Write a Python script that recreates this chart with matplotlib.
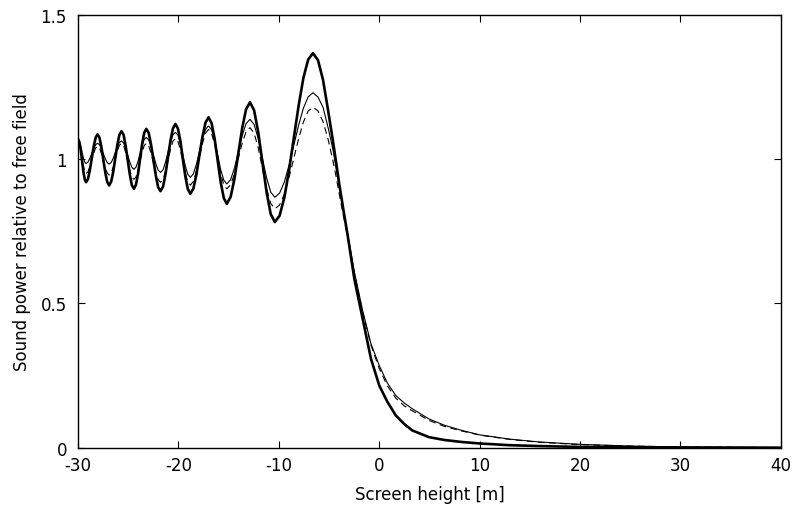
import matplotlib
matplotlib.use("Agg")
import matplotlib.pyplot as plt

plt.rcParams['font.family'] = ['DejaVu Sans']

# screen height [m], shared by the three curves
height = [-30, -29.87, -29.73, -29.6, -29.47, -29.33,
          -29.2, -29.01, -28.82, -28.63, -28.43, -28.24,
          -28.05, -27.86, -27.67, -27.48, -27.28, -27.09,
          -26.9, -26.70, -26.49, -26.29, -26.08, -25.88,
          -25.67, -25.46, -25.26, -25.05, -24.84, -24.64,
          -24.43, -24.23, -24.02, -23.82, -23.61, -23.41,
          -23.2, -22.96, -22.73, -22.49, -22.25, -22.02,
          -21.78, -21.53, -21.29, -21.04, -20.79, -20.55,
          -20.3, -20.05, -19.80, -19.56, -19.31, -19.06,
          -18.81, -18.51, -18.21, -17.91, -17.60, -17.30,
          -17.0, -16.70, -16.39, -16.09, -15.79, -15.48,
          -15.18, -14.80, -14.41, -14.03, -13.64, -13.26,
          -12.87, -12.46, -12.05, -11.64, -11.22, -10.81,
          -10.4, -9.925, -9.45, -8.975, -8.5, -8.025, -7.55, -7.075,
          -6.6, -6.1, -5.6, -5.1, -4.62, -4.3, -3.96, -3.55, -3.14,
          -2.48, -1.65, -0.82, 0, 0.8, 1.65, 2.5, 3.3, 4.95, 6.5, 8.25,
          10, 13, 16, 20, 25, 30, 35, 40]

# thick solid curve
power_a = [1.07, 1.060, 1.033, 0.995, 0.958, 0.930,
           0.92, 0.931, 0.962, 1.003, 1.045, 1.075,
           1.086, 1.074, 1.042, 0.998, 0.953, 0.921,
           0.909, 0.922, 0.956, 1.003, 1.05, 1.084,
           1.097, 1.084, 1.047, 0.997, 0.947, 0.910,
           0.897, 0.911, 0.949, 1.001, 1.053, 1.091,
           1.105, 1.091, 1.051, 0.997, 0.943, 0.903,
           0.889, 0.905, 0.947, 1.006, 1.064, 1.106,
           1.122, 1.106, 1.062, 1.001, 0.94, 0.896,
           0.88, 0.898, 0.946, 1.013, 1.079, 1.127,
           1.145, 1.125, 1.07, 0.995, 0.92, 0.865,
           0.845, 0.869, 0.933, 1.021, 1.109, 1.173,
           1.197, 1.169, 1.093, 0.990, 0.886, 0.81,
           0.782, 0.804, 0.867, 0.963, 1.075, 1.186, 1.282, 1.345,
           1.367, 1.343, 1.275, 1.17, 1.065, 0.99, 0.909, 0.82, 0.735,
           0.585, 0.447, 0.308, 0.216, 0.16, 0.112, 0.082, 0.06, 0.037, 0.027,
           0.02, 0.015, 0.009, 0.006, 0.003, 0.002, 0.001, 0.0005, 0.0003]

# thin solid curve
power_b = [1.065, 1.06, 1.045, 1.025, 1.005, 0.99,
           0.985, 0.99, 1.003, 1.02, 1.038, 1.05,
           1.055, 1.05, 1.037, 1.019, 1.001, 0.988,
           0.983, 0.988, 1.003, 1.023, 1.043, 1.058,
           1.063, 1.056, 1.039, 1.014, 0.99, 0.972,
           0.965, 0.972, 0.993, 1.02, 1.048, 1.068,
           1.075, 1.067, 1.045, 1.015, 0.984, 0.962,
           0.954, 0.963, 0.989, 1.024, 1.058, 1.084,
           1.093, 1.083, 1.054, 1.015, 0.976, 0.947,
           0.937, 0.949, 0.982, 1.026, 1.071, 1.103,
           1.115, 1.102, 1.065, 1.015, 0.964, 0.927,
           0.914, 0.929, 0.97, 1.026, 1.082, 1.123,
           1.138, 1.12, 1.071, 1.003, 0.936, 0.886,
           0.868, 0.882, 0.921, 0.98, 1.049, 1.118, 1.177, 1.216,
           1.23, 1.215, 1.18, 1.11, 1.035, 0.97, 0.9, 0.82, 0.74,
           0.61, 0.475, 0.36, 0.285, 0.225, 0.181, 0.155, 0.135, 0.10, 0.078,
           0.06, 0.045, 0.03, 0.02, 0.012, 0.006, 0.003, 0.002, 0.001]

# dashed curve
power_c = [1.06, 1.053, 1.033, 1.005, 0.978, 0.957,
           0.95, 0.956, 0.974, 0.998, 1.021, 1.039,
           1.045, 1.038, 1.02, 0.995, 0.97, 0.952,
           0.945, 0.952, 0.973, 1.0, 1.028, 1.048,
           1.055, 1.047, 1.024, 0.993, 0.961, 0.938,
           0.93, 0.938, 0.961, 0.993, 1.024, 1.047,
           1.055, 1.046, 1.021, 0.988, 0.954, 0.929,
           0.92, 0.93, 0.958, 0.996, 1.034, 1.062,
           1.072, 1.061, 1.032, 0.991, 0.951, 0.921,
           0.91, 0.923, 0.958, 1.007, 1.055, 1.09,
           1.103, 1.089, 1.052, 1.0, 0.949, 0.911,
           0.897, 0.911, 0.95, 1.003, 1.056, 1.095,
           1.109, 1.09, 1.039, 0.969, 0.898, 0.847,
           0.828, 0.841, 0.879, 0.937, 1.004, 1.071, 1.129, 1.167,
           1.18, 1.167, 1.13, 1.07, 0.995, 0.94, 0.875, 0.80, 0.73,
           0.605, 0.47, 0.355, 0.275, 0.215, 0.172, 0.145, 0.128, 0.095, 0.074,
           0.058, 0.044, 0.029, 0.019, 0.011, 0.006, 0.003, 0.002, 0.001]

xticks = [-30, -20, -10, 0, 10, 20, 30, 40]
yticks = [0, 0.5, 1, 1.5]
ytick_labels = ['0', '0.5', '1', '1.5']

fig = plt.figure(figsize=(7.96, 5.10), dpi=100)
ax = fig.add_axes([0.098, 0.12, 0.883, 0.849])

ax.plot(height, power_a, color='k', lw=1.9, solid_joinstyle='round')
ax.plot(height, power_b, color='k', lw=0.8, solid_joinstyle='round')
ax.plot(height, power_c, color='k', lw=0.8, ls='--', dashes=(6, 4))

ax.set_xlim(-30, 40)
ax.set_ylim(0, 1.5)
ax.set_xticks(xticks)
ax.set_xticklabels([str(t) for t in xticks])
ax.set_yticks(yticks)
ax.set_yticklabels(ytick_labels)
ax.tick_params(direction='in', top=True, right=True, length=5, width=0.8,
               labelsize=12)
ax.tick_params(axis='x', pad=6)
ax.tick_params(axis='y', pad=8)
for s in ax.spines.values():
    s.set_linewidth(1.0)

ax.set_xlabel('Screen height [m]', fontsize=12, labelpad=8)
ax.set_ylabel('Sound power relative to free field', fontsize=12, labelpad=7)

fig.savefig('out.png', dpi=100)
